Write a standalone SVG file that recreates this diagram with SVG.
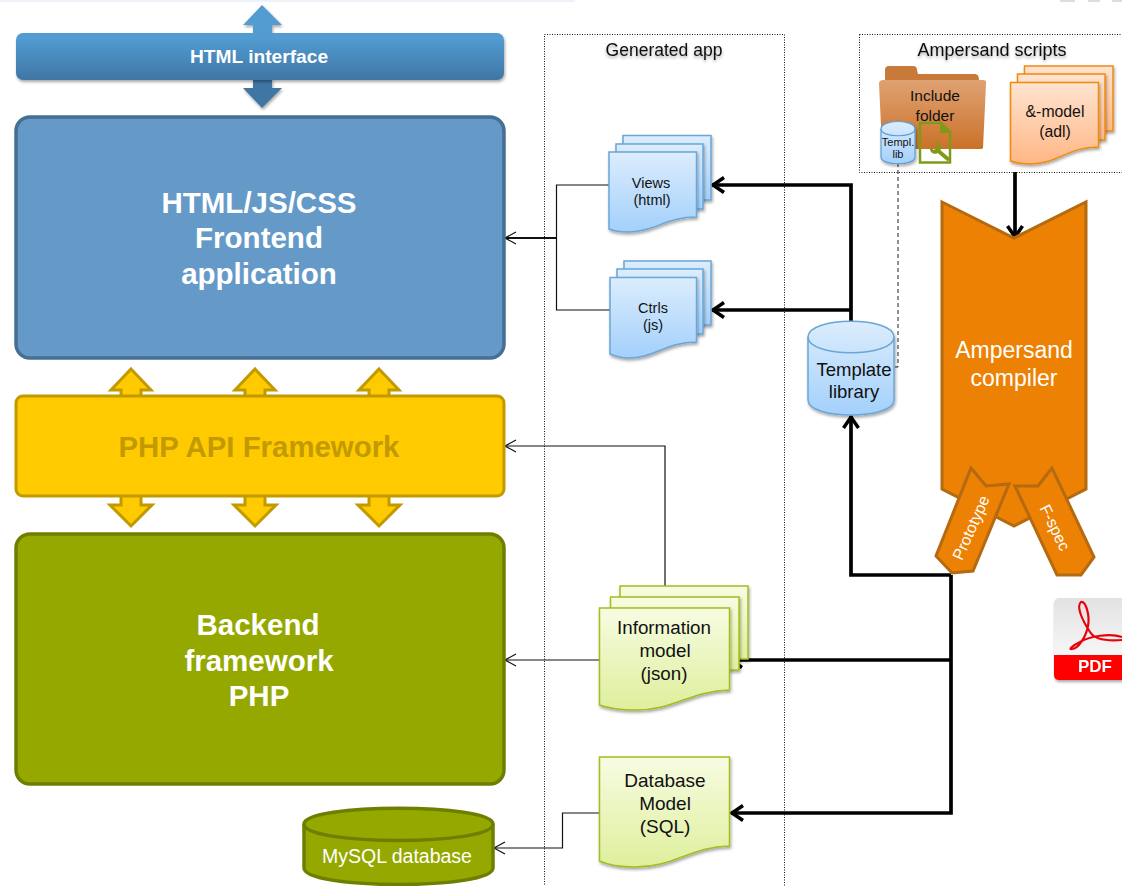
<svg xmlns="http://www.w3.org/2000/svg" width="1122" height="886" viewBox="0 0 1122 886">
<style>
text{font-family:"Liberation Sans",Arial,sans-serif;text-anchor:middle}
.bold{font-weight:700}
.w{fill:#fff}
.k{fill:#111}
.box{stroke-width:3.5}
.blue{fill:url(#gBlue);stroke:#6aa6d6;stroke-width:1.5;filter:url(#sh)}
.green{fill:url(#gGreen);stroke:#a3bd1f;stroke-width:1.5;filter:url(#sh)}
.orange{fill:url(#gOrange);stroke:#ee8a10;stroke-width:1.5;filter:url(#sh)}
.dot{fill:none;stroke:#111;stroke-width:1;stroke-dasharray:1 1.5}
.thin{fill:none;stroke:#111;stroke-width:1.2}
.thick{fill:none;stroke:#000;stroke-width:3.7}
.yarrow{fill:#ffca00;stroke:#c29a00;stroke-width:3}
.tab{fill:#ed8103;stroke:#b46a10;stroke-width:3}
.ts{filter:url(#tsh)}
</style>
<defs>
<linearGradient id="gBar" x1="0" y1="0" x2="0" y2="1"><stop offset=".1" stop-color="#529cd2"/><stop offset="1" stop-color="#3f76a4"/></linearGradient>
<linearGradient id="gBlue" x1="0" y1="0" x2="0" y2="1"><stop offset="0" stop-color="#dcedfd"/><stop offset="1" stop-color="#a3d0fb"/></linearGradient>
<linearGradient id="gGreen" x1="0" y1="0" x2="0" y2="1"><stop offset="0" stop-color="#f7fce2"/><stop offset="1" stop-color="#deef9c"/></linearGradient>
<linearGradient id="gOrange" x1="0" y1="0" x2="0" y2="1"><stop offset="0" stop-color="#fee3d0"/><stop offset="1" stop-color="#ffb785"/></linearGradient>
<linearGradient id="gFolder" x1="0" y1="0" x2="0" y2="1"><stop offset="0" stop-color="#dfa273"/><stop offset="1" stop-color="#cb7128"/></linearGradient>
<linearGradient id="gPdf" x1="0" y1="0" x2="0" y2="1"><stop offset="0" stop-color="#e2e2e2"/><stop offset="1" stop-color="#ffffff"/></linearGradient>
<filter id="sh" x="-15%" y="-15%" width="130%" height="130%"><feDropShadow dx="1" dy="2" stdDeviation="1.5" flood-color="#000" flood-opacity=".35"/></filter>
<filter id="tsh" x="-10%" y="-30%" width="120%" height="170%"><feDropShadow dx="0" dy="2" stdDeviation="1.5" flood-color="#000" flood-opacity=".35"/></filter>
<marker id="big" markerUnits="userSpaceOnUse" markerWidth="24" markerHeight="24" refX="18" refY="12" orient="auto" overflow="visible"><path d="M6,4.500 L17,12 L6,19.500" fill="none" stroke="#000" stroke-width="3.500"/></marker>
<marker id="small" markerUnits="userSpaceOnUse" markerWidth="16" markerHeight="16" refX="14" refY="8" orient="auto" overflow="visible"><path d="M3,2 L14,8 L3,14" fill="none" stroke="#111" stroke-width="1.200"/></marker>
</defs>

<rect x="0" y="0" width="575" height="2" fill="#edf3f8"/>
<rect x="1060" y="0" width="15" height="2" fill="#ddd"/><rect x="1088" y="0" width="12" height="2" fill="#ddd"/><rect x="1112" y="0" width="10" height="2" fill="#ddd"/>

<g id="generated-app">
<rect class="dot" x="544.500" y="34.500" width="240" height="860"/>
<text class="ts k" x="664" y="56" font-size="17.500">Generated app</text>
</g>
<g id="ampersand-scripts">
<rect class="dot" x="859.500" y="34.500" width="280" height="138"/>
<text class="ts k" x="992" y="56" font-size="18">Ampersand scripts</text>
</g>

<g id="connectors">
<path class="thin" d="M609,185 H556.500 V310 H611"/>
<path d="M556,238 H505" fill="none" stroke="#111" stroke-width="1.800" marker-end="url(#small)"/>
<path class="thin" d="M665,586 V446 H505" marker-end="url(#small)"/>
<path class="thin" d="M599,660 H505" marker-end="url(#small)"/>
<path class="thin" d="M600,813 H562.500 V848 H494" marker-end="url(#small)"/>
<path d="M898,163 V367 H894" fill="none" stroke="#222" stroke-width="1" stroke-dasharray="4 3"/>
<path class="thick" d="M851,322 V185 H712" marker-end="url(#big)"/>
<path class="thick" d="M851,310 H712" marker-end="url(#big)"/>
<path class="thick" d="M951,575 H851 V416" marker-end="url(#big)"/>
<path class="thick" d="M951,575 V813 H731" marker-end="url(#big)"/>
<path class="thick" d="M951,660 H730" marker-end="url(#big)"/>
<path class="thick" d="M1015,172 V238" marker-end="url(#big)"/>
</g>

<g id="html-interface">
<path d="M262,5 L282,25 H272 V36 H253 V25 H243 Z" fill="#529cd2" filter="url(#sh)"/>
<path d="M253,78 H272 V88 H282 L262,108 L243,88 H253 Z" fill="#3f76a4" filter="url(#sh)"/>
<rect x="16" y="33" width="488" height="47" rx="7" fill="url(#gBar)" filter="url(#sh)"/>
<text class="w bold" x="259" y="63" font-size="19.200">HTML interface</text>
</g>

<g id="frontend">
<rect class="box" x="16" y="117" width="488" height="241" rx="14" fill="#659ac8" stroke="#456f93"/>
<text class="w bold" x="259" y="213" font-size="29.500">HTML/JS/CSS</text>
<text class="w bold" x="259" y="248" font-size="29.500">Frontend</text>
<text class="w bold" x="259" y="284" font-size="29.500">application</text>
</g>

<g id="api-arrows">
<path class="yarrow" d="M131,369 L151,390 H141 V398 H121 V390 H111 Z"/>
<path class="yarrow" d="M255,369 L275,390 H265 V398 H245 V390 H235 Z"/>
<path class="yarrow" d="M379,369 L399,390 H389 V398 H369 V390 H359 Z"/>
<path class="yarrow" d="M121,495 H141 V505 H152 L131,526 L110,505 H121 Z"/>
<path class="yarrow" d="M245,495 H265 V505 H276 L255,526 L234,505 H245 Z"/>
<path class="yarrow" d="M369,495 H389 V505 H400 L379,526 L358,505 H369 Z"/>
</g>

<g id="php-api">
<rect x="16" y="396" width="488" height="100" rx="7" fill="#ffca00" stroke="#c29a00" stroke-width="3"/>
<text class="bold" x="259" y="457" font-size="29.400" fill="#c29a00">PHP API Framework</text>
</g>

<g id="backend">
<rect class="box" x="16" y="534" width="488" height="250" rx="14" fill="#94a800" stroke="#6e7f00"/>
<text class="w bold" x="258" y="635" font-size="29.500">Backend</text>
<text class="w bold" x="259" y="671" font-size="29.500">framework</text>
<text class="w bold" x="259" y="706" font-size="29.500">PHP</text>
</g>

<g id="mysql">
<path d="M304,824 C304,803 493,803 493,824 V868 C493,890 304,890 304,868 Z" fill="#94a800" stroke="#6e7f00" stroke-width="3.500"/>
<path d="M304,824 C304,846 493,846 493,824" fill="none" stroke="#6e7f00" stroke-width="3.500"/>
<text class="w" x="397" y="863" font-size="19.500">MySQL database</text>
</g>

<g id="views">
<path class="blue" d="M623,135.500 H711 V200 H623 Z"/>
<path class="blue" d="M616,144 H703 V209 H616 Z"/>
<path class="blue" d="M609,152 H696.500 V217 C665,217 655,232 627,232 C620,232 614,231 609,229 Z"/>
<text class="k" x="651" y="188" font-size="14.500">Views</text>
<text class="k" x="652" y="205" font-size="14.500">(html)</text>
</g>

<g id="ctrls">
<path class="blue" d="M624,261 H711 V325 H624 Z"/>
<path class="blue" d="M617,269 H703 V334 H617 Z"/>
<path class="blue" d="M610,277.500 H696.500 V342 C665,342 655,358 628,358 C621,358 615,356 610,354 Z"/>
<text class="k" x="653" y="313" font-size="14.500">Ctrls</text>
<text class="k" x="653" y="330" font-size="14.500">(js)</text>
</g>

<g id="template-library">
<path d="M808,337 C808,316 894,316 894,337 V400 C894,420 808,420 808,400 Z" fill="url(#gBlue)" stroke="#6aa6d6" stroke-width="1.500" filter="url(#sh)"/>
<path d="M808,337 C808,358 894,358 894,337" fill="none" stroke="#6aa6d6" stroke-width="1.500"/>
<text class="k" x="854" y="376" font-size="18.500">Template</text>
<text class="k" x="854" y="398" font-size="18.500">library</text>
</g>

<g id="include-folder">
<path d="M885,78 V70 Q885,66 889,66 H913 Q917,66 917,70 L918,74 H975 Q979,74 979,80 V90 H885 Z" fill="#c87a3b"/>
<path d="M879,84 Q879,80 883,80 H983 Q987,80 986,84 L983,148 Q983,149 980,149 H884 Q882,149 882,146 Z" fill="url(#gFolder)"/>
<text class="k" x="935" y="101" font-size="15.500">Include</text>
<text class="k" x="935" y="121" font-size="15.500">folder</text>
</g>
<g id="templ-lib">
<path d="M881,129 C881,119 915,119 915,129 V157 C915,166 881,166 881,157 Z" fill="url(#gBlue)" stroke="#5d9fd3" stroke-width="1.200" filter="url(#sh)"/>
<path d="M881,129 C881,138 915,138 915,129" fill="none" stroke="#5d9fd3" stroke-width="1.200"/>
<text class="k" x="898" y="146" font-size="11">Templ.</text>
<text class="k" x="898" y="158" font-size="11">lib</text>
</g>
<g id="file-icon">
<path d="M920,123 H941 L950,132 V162.500 H920 Z" fill="none" stroke="#7f9a1a" stroke-width="2.500"/>
<path d="M941,123 V132 H950 Z" fill="#7f9a1a" stroke="#7f9a1a" stroke-width="2"/>
<path d="M936,149 L949,160" fill="none" stroke="#7f9a1a" stroke-width="4"/>
<path d="M930,147 C929,153 935,156 939,152 C943,148 941,142 935,142 L938,147 L934,150 Z" fill="#7f9a1a"/>
</g>

<g id="adl-model">
<path class="orange" d="M1024.500,66 H1113 V131 H1024.500 Z"/>
<path class="orange" d="M1017.500,74 H1105 V140 H1017.500 Z"/>
<path class="orange" d="M1010.500,82.500 H1098.500 V147 C1067,147 1057,164 1031,164 C1022,164 1016,163 1010.500,161 Z"/>
<text class="k" x="1055" y="117" font-size="15.800">&amp;-model</text>
<text class="k" x="1055" y="137" font-size="15.800">(adl)</text>
</g>

<g id="compiler">
<path d="M942,202 L1014,238 L1086,202 V489 L1014,526 L942,489 Z" fill="#ed8103" stroke="#b46a10" stroke-width="3"/>
<text class="w" x="1014" y="358" font-size="23">Ampersand</text>
<text class="w" x="1014" y="386" font-size="23">compiler</text>
</g>
<g id="prototype">
<path class="tab" d="M971,468 L986,486 L1009,484 L973,571 L952,573 L936,556 Z"/>
<text class="w" transform="translate(976,530) rotate(-66)" font-size="16">Prototype</text>
</g>
<g id="fspec">
<path class="tab" d="M1052,468 L1038,486 L1015,486 L1057,575 L1081,575 L1094,557 Z"/>
<text class="w" transform="translate(1050,530) rotate(64)" font-size="16">F-spec</text>
</g>

<g id="information-model">
<path class="green" d="M620,586 H748 V659 H620 Z"/>
<path class="green" d="M610.500,597 H739 V670 H610.500 Z"/>
<path class="green" d="M599.500,608 H729.500 V690 C690,691 675,710 635,710 C620,710 608,708 599.500,705 Z"/>
<text class="k" x="664" y="634" font-size="18.800">Information</text>
<text class="k" x="665" y="657" font-size="18.800">model</text>
<text class="k" x="664" y="680" font-size="18.800">(json)</text>
</g>

<g id="database-model">
<path class="green" d="M599.500,757 H729.500 V846 C690,847 675,867 635,867 C620,867 608,865 599.500,861 Z"/>
<text class="k" x="665" y="787" font-size="19">Database</text>
<text class="k" x="665" y="810" font-size="19">Model</text>
<text class="k" x="665" y="833" font-size="19">(SQL)</text>
</g>

<g id="pdf-icon" filter="url(#sh)">
<rect x="1054" y="598" width="90" height="82" rx="5" fill="url(#gPdf)"/>
<path d="M1054,655 H1144 V675 Q1144,680 1139,680 H1059 Q1054,680 1054,675 Z" fill="#f00"/>
<path d="M1122,637 C1110,633 1090,636 1080,642 C1072,646 1068,650 1072,649 C1078,649 1086,637 1088,626 C1090,616 1086,601 1081,602 C1076,606 1082,620 1090,632 C1095,640 1110,641 1122,640" fill="none" stroke="#e8060c" stroke-width="2.200"/>
<text class="w bold" x="1095" y="672" font-size="17">PDF</text>
</g>
</svg>
